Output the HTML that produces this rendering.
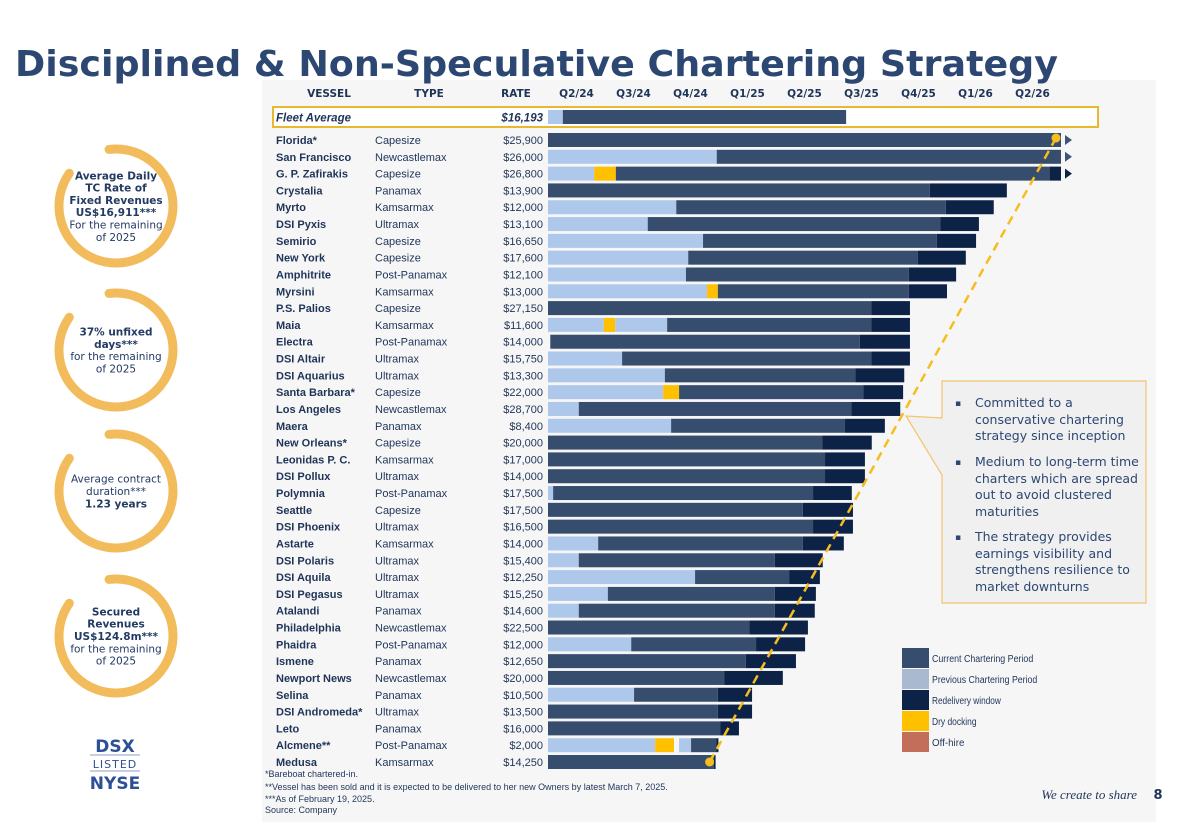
<!DOCTYPE html>
<html><head><meta charset="utf-8">
<style>
html,body{margin:0;padding:0;background:#fff;}
svg{display:block;font-family:"DejaVu Sans","Liberation Sans",sans-serif;}
</style></head>
<body>
<svg id="c" width="1192" height="825" viewBox="0 0 1192 825" xmlns="http://www.w3.org/2000/svg">
<rect x="262" y="80" width="894" height="742" fill="#f6f6f6"/>
<text x="15" y="76" font-size="36" font-weight="bold" fill="#2c4772" textLength="1043" lengthAdjust="spacingAndGlyphs">Disciplined &amp; Non-Speculative Chartering Strategy</text>
<g id="rings"></g>
<g id="hdr" font-size="10.5" font-weight="bold" fill="#1f3458"></g>
<rect x="273" y="107" width="825" height="20" fill="#fff" stroke="#e8b830" stroke-width="2"/>
<text x="276" y="121.5" font-size="11.5" font-weight="bold" font-style="italic" fill="#1f3458" font-family="'Liberation Sans',sans-serif">Fleet Average</text>
<text x="543" y="121.5" font-size="11.5" font-weight="bold" font-style="italic" fill="#1f3458" font-family="'Liberation Sans',sans-serif" text-anchor="end">$16,193</text>
<g id="rows" font-family="'Liberation Sans',sans-serif"></g>
<g id="bars"></g>
<g id="dash"></g>
<g>
<path d="M942,381 H1146 V603 H942 V475 L906,416 L942,418 Z" fill="#f0f0f0" stroke="#f2c46d" stroke-width="1.2"/>
<g font-size="12.5" fill="#2c4772">
<text x="955" y="406" font-size="9">▪</text>
<text x="975" y="407">Committed to a</text><text x="975" y="424">conservative chartering</text><text x="975" y="440">strategy since inception</text>
<text x="955" y="465" font-size="9">▪</text>
<text x="975" y="466">Medium to long-term time</text><text x="975" y="483">charters which are spread</text><text x="975" y="499">out to avoid clustered</text><text x="975" y="516">maturities</text>
<text x="955" y="540" font-size="9">▪</text>
<text x="975" y="541">The strategy provides</text><text x="975" y="558">earnings visibility and</text><text x="975" y="574">strengthens resilience to</text><text x="975" y="591">market downturns</text>
</g></g>
<g id="legend" font-size="10" fill="#1f3458" font-family="'Liberation Sans Narrow','Liberation Sans',sans-serif"></g>
<g font-size="9" fill="#1f3458" font-family="'Liberation Sans',sans-serif">
<text x="265" y="777">*Bareboat chartered-in.</text>
<text x="265" y="790">**Vessel has been sold and it is expected to be delivered to her new Owners by latest March 7, 2025.</text>
<text x="265" y="802">***As of February 19, 2025.</text>
<text x="265" y="813">Source: Company</text>
</g>
<g text-anchor="middle" fill="#2c4f96">
<text x="115" y="752" font-size="17" font-weight="bold">DSX</text>
<line x1="90" y1="755" x2="140" y2="755" stroke="#8ea0c8" stroke-width="1"/>
<text x="115" y="768" font-size="11" letter-spacing="1">LISTED</text>
<line x1="90" y1="771" x2="140" y2="771" stroke="#8ea0c8" stroke-width="1"/>
<text x="115" y="789" font-size="17" font-weight="bold">NYSE</text>
</g>
<text x="1137" y="799" font-size="13" font-style="italic" font-family="'Liberation Serif',serif" fill="#1f3458" text-anchor="end">We create to share</text>
<text x="1158" y="799" font-size="13" font-weight="bold" fill="#1f3458" text-anchor="middle">8</text>
</svg>
<script>
const quarters=["Q2/24","Q3/24","Q4/24","Q1/25","Q2/25","Q3/25","Q4/25","Q1/26","Q2/26"];
const vessels=["Florida*","San Francisco","G. P. Zafirakis","Crystalia","Myrto","DSI Pyxis","Semirio","New York","Amphitrite","Myrsini","P.S. Palios","Maia","Electra","DSI Altair","DSI Aquarius","Santa Barbara*","Los Angeles","Maera","New Orleans*","Leonidas P. C.","DSI Pollux","Polymnia","Seattle","DSI Phoenix","Astarte","DSI Polaris","DSI Aquila","DSI Pegasus","Atalandi","Philadelphia","Phaidra","Ismene","Newport News","Selina","DSI Andromeda*","Leto","Alcmene**","Medusa"];
const types=["Capesize","Newcastlemax","Capesize","Panamax","Kamsarmax","Ultramax","Capesize","Capesize","Post-Panamax","Kamsarmax","Capesize","Kamsarmax","Post-Panamax","Ultramax","Ultramax","Capesize","Newcastlemax","Panamax","Capesize","Kamsarmax","Ultramax","Post-Panamax","Capesize","Ultramax","Kamsarmax","Ultramax","Ultramax","Ultramax","Panamax","Newcastlemax","Post-Panamax","Panamax","Newcastlemax","Panamax","Ultramax","Panamax","Post-Panamax","Kamsarmax"];
const rates=["$25,900","$26,000","$26,800","$13,900","$12,000","$13,100","$16,650","$17,600","$12,100","$13,000","$27,150","$11,600","$14,000","$15,750","$13,300","$22,000","$28,700","$8,400","$20,000","$17,000","$14,000","$17,500","$17,500","$16,500","$14,000","$15,400","$12,250","$15,250","$14,600","$22,500","$12,000","$12,650","$20,000","$10,500","$13,500","$16,000","$2,000","$14,250"];
// segments: [type, endQuarter] ; P=previous C=current R=redelivery D=drydock G=gap (quarters from Q2/24 start)
const fleetAvg=[["P",0.26],["C",5.23]];
const segments=[
[["C",9]],
[["P",2.96],["C",9]],
[["P",0.81],["D",1.19],["C",8.8],["R",9]],
[["C",6.70],["R",8.05]],
[["P",2.25],["C",6.98],["R",7.82]],
[["P",1.75],["C",6.88],["R",7.56]],
[["P",2.72],["C",6.82],["R",7.51]],
[["P",2.46],["C",6.49],["R",7.33]],
[["P",2.42],["C",6.33],["R",7.16]],
[["P",2.79],["D",2.98],["C",6.33],["R",7.0]],
[["C",5.67],["R",6.35]],
[["P",0.98],["D",1.18],["P",2.09],["C",5.67],["R",6.35]],
[["G",0.04],["C",5.47],["R",6.35]],
[["P",1.30],["C",5.67],["R",6.35]],
[["P",2.05],["C",5.39],["R",6.25]],
[["P",2.02],["D",2.30],["C",5.53],["R",6.23]],
[["P",0.54],["C",5.32],["R",6.18]],
[["P",2.16],["C",5.21],["R",5.91]],
[["C",4.81],["R",5.68]],
[["C",4.86],["R",5.56]],
[["C",4.86],["R",5.56]],
[["P",0.09],["C",4.65],["R",5.33]],
[["C",4.47],["R",5.35]],
[["C",4.65],["R",5.35]],
[["P",0.88],["C",4.47],["R",5.19]],
[["P",0.54],["C",3.98],["R",4.82]],
[["P",2.58],["C",4.23],["R",4.77]],
[["P",1.05],["C",3.98],["R",4.70]],
[["P",0.54],["C",3.98],["R",4.68]],
[["C",3.53],["R",4.56]],
[["P",1.46],["C",3.65],["R",4.51]],
[["C",3.47],["R",4.35]],
[["C",3.09],["R",4.12]],
[["P",1.51],["C",2.98],["R",3.58]],
[["C",2.98],["R",3.58]],
[["C",3.02],["R",3.35]],
[["P",1.88],["D",2.21],["G",2.30],["P",2.51],["C",2.95],["R",2.99]],
[["C",2.91],["R",2.94]]
];
const arrowRows=[0,1,2];
const legendLabels=["Current Chartering Period","Previous Chartering Period","Redelivery window","Dry docking","Off-hire"];
const legendKeys=["C","P","R","D","O"];

const NS="http://www.w3.org/2000/svg";
const col={C:"#374d6d",P:"#aec8ec",R:"#0d2247",D:"#ffc000",O:"#c26e5a"};
const legCol={C:"#374d6d",P:"#a9b9cf",R:"#0d2247",D:"#ffc000",O:"#c26e5a"};
const x0=548,qw=57,rowY0=140,barH=14;
const rowH=(762-140)/(vessels.length-1);
const xs=q=>x0+q*qw;
const ys=i=>rowY0+i*rowH;
function mk(tag,attrs,parent,txt){const e=document.createElementNS(NS,tag);for(const k in attrs)e.setAttribute(k,attrs[k]);if(txt!==undefined)e.textContent=txt;parent.appendChild(e);return e;}

// rings
const rings=document.getElementById('rings');
const ringCy=[206,350,491,636];
const ringTexts=[
[["Average Daily",1],["TC Rate of",1],["Fixed Revenues",1],["US$16,911***",1],["For the remaining",0],["of 2025",0]],
[["37% unfixed",1],["days***",1],["for the remaining",0],["of 2025",0]],
[["Average contract",0],["duration***",0],["1.23 years",1]],
[["Secured",1],["Revenues",1],["US$124.8m***",1],["for the remaining",0],["of 2025",0]]
];
ringCy.forEach((cy,k)=>{
  const r=57,a1=-97*Math.PI/180,a2=215*Math.PI/180;
  const p=mk('path',{d:`M${116+r*Math.cos(a1)},${cy+r*Math.sin(a1)} A${r},${r} 0 1 1 ${116+r*Math.cos(a2)},${cy+r*Math.sin(a2)}`,fill:"none",stroke:"#f2bc5c","stroke-width":9,"stroke-linecap":"round"},rings);
  
  
  const lines=ringTexts[k];const lh=12.3;const start=cy-(lines.length-1)*lh/2+4;
  lines.forEach((l,j)=>{
    const t=mk('text',{x:116,y:start+j*lh,"text-anchor":"middle","font-size":10.5,"font-weight":l[1]?"bold":"normal",fill:"#233a63"},rings,l[0]);
    
    
  });
});

// header
const hdr=document.getElementById('hdr');
[["VESSEL",329],["TYPE",429],["RATE",516]].forEach(h=>{const t=mk('text',{x:h[1],y:97,"text-anchor":"middle"},hdr,h[0]);});
quarters.forEach((q,i)=>{const t=mk('text',{x:xs(i+0.5),y:97,"text-anchor":"middle"},hdr,q);});

// rows text
const rows=document.getElementById('rows');
vessels.forEach((v,i)=>{
  const y=ys(i)+4;
  const a=mk('text',{x:276,y:y,"font-size":11,"font-weight":"bold",fill:"#1f3458"},rows,v);
  
  
  const b=mk('text',{x:375,y:y,"font-size":11,fill:"#1f3458"},rows,types[i]);
  
  
  const c=mk('text',{x:543,y:y,"font-size":11,fill:"#1f3458","text-anchor":"end"},rows,rates[i]);
  
  
});

// bars
const bars=document.getElementById('bars');
function drawSegs(segs,yc){let s=0;segs.forEach(sg=>{const e=sg[1];if(sg[0]!=="G"){const r=mk('rect',{x:xs(s),y:yc-barH/2,width:Math.max(0.5,xs(e)-xs(s)),height:barH,fill:col[sg[0]]},bars);
  
  }s=e;});}
drawSegs(fleetAvg,117);
segments.forEach((sg,i)=>drawSegs(sg,ys(i)));
arrowRows.forEach(i=>{const y=ys(i);const p=mk('path',{d:`M${xs(9)+4},${y-5} L${xs(9)+11},${y} L${xs(9)+4},${y+5} Z`,fill:i===2?"#0d2247":"#3f5578"},bars);
  
  });

// dashed trend line from last vessel end to first vessel end
const dash=document.getElementById('dash');
const last=segments.length-1;
const sx=xs(segments[last][segments[last].length-1][1])-6,sy=ys(last);
const ex=xs(segments[0][segments[0].length-1][1])-5,ey=ys(0)-2;
const ln=mk('line',{x1:sx,y1:sy,x2:ex,y2:ey,stroke:"#f5bd1f","stroke-width":2.5,"stroke-dasharray":"9,6"},dash);


[[sx,sy],[ex,ey]].forEach(p=>{const c=mk('circle',{cx:p[0],cy:p[1],r:4.5,fill:"#f5bd1f"},dash);});

// legend
const lg=document.getElementById('legend');
legendKeys.forEach((k,i)=>{const y=648+i*21;
  const r=mk('rect',{x:902,y:y,width:27,height:20,fill:legCol[k]},lg);
  
  
  const t=mk('text',{x:932,y:y+14,textLength:legendLabels[i].length*4.05,lengthAdjust:"spacingAndGlyphs"},lg,legendLabels[i]);
  
  
});
</script>
</body></html>
